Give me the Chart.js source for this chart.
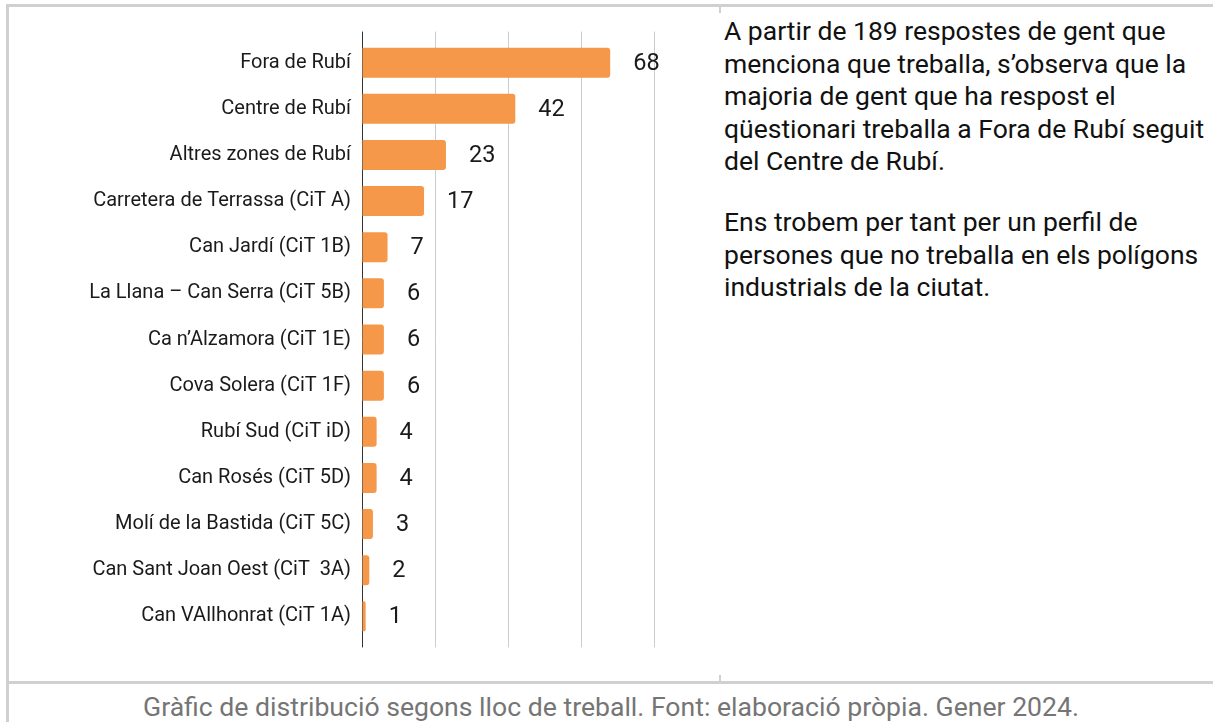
<!DOCTYPE html>
<html>
<head>
<meta charset="utf-8">
<script src="https://cdn.jsdelivr.net/npm/chart.js@4/dist/chart.umd.min.js"></script>
<style>
  html, body { margin: 0; padding: 0; background: #fff; width: 1213px; height: 722px; overflow: hidden; position: relative; font-family: Roboto, "Noto Sans", sans-serif; }
  .line { position: absolute; background: #d0d0d0; }
  #chartBox { position: absolute; left: 0; top: 0; width: 720px; height: 680px; }
  .side { position: absolute; left: 724px; font-size: 26.5px; line-height: 32.5px; color: #111; white-space: nowrap; }
  #caption { position: absolute; left: 0; width: 1222px; top: 692px; text-align: center; font-size: 26.6px; line-height: 30px; color: #757575; white-space: nowrap; }
</style>
</head>
<body>
<div class="line" style="left:6px; top:4px; right:0; height:3px;"></div>
<div class="line" style="left:6px; top:4px; bottom:0; width:3px;"></div>
<div class="line" style="left:6px; top:681px; right:0; height:3px;"></div>
<div class="line" style="left:719px; top:6px; width:2px; height:7px;"></div>
<div class="line" style="left:719px; top:675px; width:2px; height:7px;"></div>
<div id="chartBox"><canvas id="c" width="720" height="680"></canvas></div>
<div class="side" style="top:15px;">A partir de 189 respostes de gent que<br>menciona que treballa, s’observa que la<br>majoria de gent que ha respost el<br>qüestionari treballa a Fora de Rubí seguit<br>del Centre de Rubí.</div>
<div class="side" style="top:206px;">Ens trobem per tant per un perfil de<br>persones que no treballa en els polígons<br>industrials de la ciutat.</div>
<div id="caption">Gràfic de distribució segons lloc de treball. Font: elaboració pròpia. Gener 2024.</div>
<script>
const categories = [
  "Fora de Rubí",
  "Centre de Rubí",
  "Altres zones de Rubí",
  "Carretera de Terrassa (CiT A)",
  "Can Jardí (CiT 1B)",
  "La Llana – Can Serra (CiT 5B)",
  "Ca n’Alzamora (CiT 1E)",
  "Cova Solera (CiT 1F)",
  "Rubí Sud (CiT iD)",
  "Can Rosés (CiT 5D)",
  "Molí de la Bastida (CiT 5C)",
  "Can Sant Joan Oest (CiT  3A)",
  "Can VAllhonrat (CiT 1A)"
];
const values = [68, 42, 23, 17, 7, 6, 6, 6, 4, 4, 3, 2, 1];
const axisMin = 0;
const axisMax = 80;
const axisStep = 20;

const valueLabels = {
  id: 'valueLabels',
  afterDatasetsDraw(chart) {
    const ctx = chart.ctx;
    const meta = chart.getDatasetMeta(0);
    ctx.save();
    ctx.font = '23.5px Roboto';
    ctx.fillStyle = '#1a1a1a';
    ctx.textAlign = 'left';
    ctx.textBaseline = 'middle';
    meta.data.forEach((bar, i) => {
      ctx.fillText(String(values[i]), bar.x + 23, bar.y + 1);
    });
    ctx.restore();
  }
};

const tickCol = (c) => (c.tick && c.tick.value === 0) ? '#333' : '#cccccc';

new Chart(document.getElementById('c'), {
  type: 'bar',
  data: {
    labels: categories,
    datasets: [{
      data: values,
      backgroundColor: '#f5984a',
      borderRadius: 3,
      barPercentage: 0.65,
      categoryPercentage: 1
    }]
  },
  options: {
    indexAxis: 'y',
    responsive: false,
    animation: false,
    devicePixelRatio: 1,
    layout: { padding: { left: 0, right: 66, top: 31.6, bottom: 32.6 } },
    plugins: { legend: { display: false }, tooltip: { enabled: false } },
    scales: {
      y: {
        type: 'category',
        offset: true,
        afterFit(scale) { scale.width = 362; },
        grid: { display: false, drawTicks: false },
        border: { display: true, color: '#333', width: 1 },
        ticks: { color: '#1a1a1a', font: { family: 'Roboto', size: 20 }, padding: 11, autoSkip: false }
      },
      x: {
        type: 'linear', position: 'bottom',
        min: axisMin, max: axisMax,
        ticks: { display: false, stepSize: axisStep },
        grid: { color: '#cccccc', tickColor: tickCol, tickLength: 8, lineWidth: 1 },
        border: { display: false }
      },
      x2: {
        type: 'linear', position: 'top',
        min: axisMin, max: axisMax,
        ticks: { display: false, stepSize: axisStep },
        grid: { drawOnChartArea: false, tickColor: tickCol, tickLength: 8, lineWidth: 1 },
        border: { display: false }
      }
    }
  },
  plugins: [valueLabels]
});
</script>
</body>
</html>
